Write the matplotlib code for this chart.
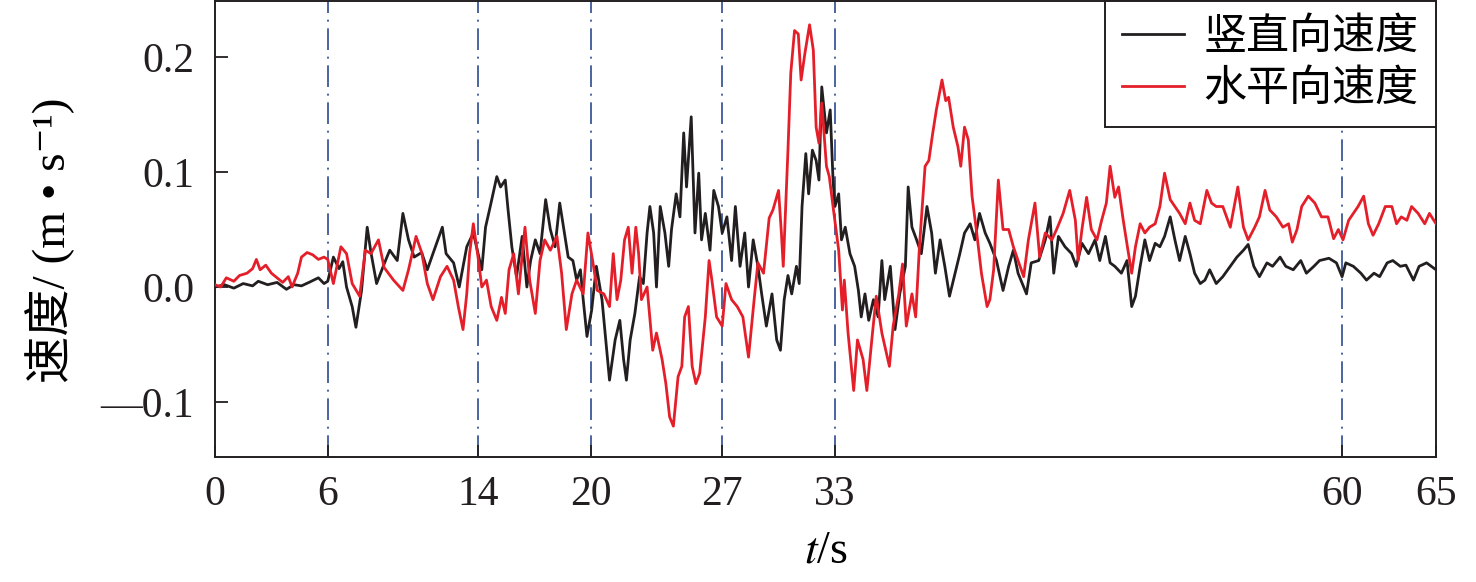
import numpy as np
import matplotlib
matplotlib.use('Agg')
import matplotlib.pyplot as plt

plt.rcParams['font.family'] = ['Liberation Serif', 'DejaVu Serif', 'Noto Sans CJK SC']
plt.rcParams['mathtext.fontset'] = 'stix'

# 竖直向速度 (t, v) 读图得到
vertical_speed = [
    (0, 0.000), (0.5, 0.002), (1.0, -0.001), (1.5, 0.003), (2.0, 0.001), (2.3, 0.005), (2.8, 0.002),
    (3.3, 0.004), (3.8, -0.002), (4.2, 0.002), (4.6, 0.001), (5.0, 0.004), (5.5, 0.008), (5.8, 0.003),
    (6.0, 0.005), (6.3, 0.026), (6.6, 0.016), (6.8, 0.022), (7.0, 0.000), (7.3, -0.017), (7.5, -0.035),
    (7.8, -0.003), (8.1, 0.052), (8.3, 0.030), (8.6, 0.003), (9.0, 0.020), (9.3, 0.032), (9.7, 0.023),
    (10.0, 0.064), (10.3, 0.041), (10.6, 0.026), (11.0, 0.030), (11.3, 0.015), (11.6, 0.029), (12.1, 0.052),
    (12.3, 0.029), (12.7, 0.021), (13.0, 0.000), (13.4, 0.035), (13.75, 0.047), (14.0, 0.029), (14.2, 0.015),
    (14.4, 0.052), (14.65, 0.070), (15.0, 0.096), (15.2, 0.087), (15.45, 0.093), (15.6, 0.067), (15.8, 0.035),
    (16.05, 0.009), (16.35, 0.044), (16.6, 0.000), (16.8, 0.023), (17.05, 0.041), (17.3, 0.029), (17.6, 0.076),
    (17.85, 0.050), (18.1, 0.035), (18.35, 0.073), (18.55, 0.052), (18.8, 0.026), (19.05, 0.023), (19.25, 0.006),
    (19.45, 0.015), (19.6, -0.011), (19.8, -0.043), (20.05, -0.020), (20.3, 0.018), (20.6, -0.011),
    (20.85, -0.055), (21.0, -0.081), (21.3, -0.046), (21.55, -0.029), (21.75, -0.063), (21.9, -0.081),
    (22.1, -0.046), (22.35, -0.023), (22.6, 0.009), (22.8, 0.003), (23.0, 0.047), (23.15, 0.070), (23.35, 0.047),
    (23.5, 0.000), (23.7, 0.070), (23.95, 0.047), (24.15, 0.018), (24.3, 0.050), (24.55, 0.081), (24.75, 0.061),
    (24.95, 0.134), (25.1, 0.087), (25.35, 0.148), (25.55, 0.047), (25.75, 0.099), (25.9, 0.041), (26.1, 0.064),
    (26.35, 0.032), (26.55, 0.084), (26.8, 0.070), (27.0, 0.047), (27.25, 0.061), (27.5, 0.023), (27.7, 0.070),
    (27.95, 0.018), (28.2, 0.047), (28.4, 0.000), (28.65, 0.041), (28.9, 0.018), (29.1, -0.006), (29.35, -0.034),
    (29.65, -0.006), (29.9, -0.046), (30.1, -0.055), (30.3, -0.011), (30.5, 0.010), (30.7, -0.006),
    (30.95, 0.018), (31.1, 0.003), (31.25, 0.070), (31.45, 0.116), (31.6, 0.081), (31.8, 0.119), (32.0, 0.110),
    (32.15, 0.093), (32.3, 0.174), (32.55, 0.134), (32.75, 0.154), (32.9, 0.093), (33.0, 0.070), (33.2, 0.081),
    (33.35, 0.041), (33.55, 0.052), (33.8, 0.029), (34.05, 0.018), (34.25, -0.003), (34.4, -0.026),
    (34.6, -0.006), (34.8, -0.029), (35.05, -0.011), (35.3, -0.026), (35.5, 0.023), (35.65, -0.011),
    (35.95, 0.018), (36.2, -0.037), (36.45, -0.006), (36.75, 0.018), (36.9, 0.087), (37.1, 0.052), (37.35, 0.041),
    (37.6, 0.029), (37.9, 0.070), (38.15, 0.047), (38.35, 0.012), (38.6, 0.041), (38.85, 0.018), (39.1, -0.008),
    (39.4, 0.012), (39.65, 0.029), (39.9, 0.047), (40.2, 0.055), (40.45, 0.041), (40.7, 0.064), (41.0, 0.047),
    (41.25, 0.038), (41.6, 0.023), (41.95, -0.003), (42.25, 0.018), (42.5, 0.032), (42.75, 0.012), (43.2, -0.006),
    (43.45, 0.021), (43.85, 0.023), (44.2, 0.041), (44.45, 0.061), (44.65, 0.012), (44.9, 0.044), (45.25, 0.035),
    (45.6, 0.029), (45.85, 0.018), (46.15, 0.038), (46.5, 0.029), (46.85, 0.041), (47.1, 0.023), (47.4, 0.044),
    (47.65, 0.021), (47.9, 0.018), (48.25, 0.012), (48.55, 0.023), (48.8, -0.017), (49.0, -0.008), (49.25, 0.018),
    (49.5, 0.041), (49.75, 0.023), (50.05, 0.038), (50.3, 0.035), (50.55, 0.044), (50.85, 0.061), (51.1, 0.041),
    (51.35, 0.023), (51.65, 0.044), (51.9, 0.029), (52.15, 0.012), (52.45, 0.003), (52.7, 0.006), (52.95, 0.015),
    (53.3, 0.003), (53.65, 0.009), (54.05, 0.018), (54.4, 0.026), (54.75, 0.032), (55.0, 0.037), (55.3, 0.018),
    (55.6, 0.009), (56.0, 0.021), (56.3, 0.018), (56.7, 0.026), (57.0, 0.018), (57.4, 0.015), (57.8, 0.023),
    (58.1, 0.012), (58.5, 0.018), (58.8, 0.023), (59.3, 0.025), (59.7, 0.021), (60.0, 0.009), (60.2, 0.021),
    (60.6, 0.018), (61.0, 0.012), (61.3, 0.006), (61.7, 0.012), (62.0, 0.009), (62.4, 0.021), (62.7, 0.023),
    (63.1, 0.018), (63.4, 0.019), (63.8, 0.006), (64.1, 0.018), (64.5, 0.021), (65.0, 0.015),
]

# 水平向速度 (t, v)
horizontal_speed = [
    (0, 0.002), (0.3, 0.000), (0.6, 0.008), (1.0, 0.005), (1.3, 0.010), (1.7, 0.012), (2.0, 0.016),
    (2.2, 0.024), (2.4, 0.015), (2.7, 0.019), (3.0, 0.012), (3.3, 0.008), (3.6, 0.004), (3.9, 0.009),
    (4.1, 0.000), (4.4, 0.012), (4.6, 0.026), (4.9, 0.030), (5.2, 0.028), (5.5, 0.024), (5.8, 0.026),
    (6.0, 0.024), (6.3, 0.003), (6.7, 0.035), (7.0, 0.029), (7.3, 0.003), (7.7, -0.008), (8.0, 0.032),
    (8.3, 0.029), (8.7, 0.041), (9.0, 0.017), (9.5, 0.006), (10.0, -0.003), (10.3, 0.015), (10.7, 0.044),
    (11.0, 0.030), (11.3, 0.003), (11.6, -0.011), (12.0, 0.009), (12.35, 0.018), (12.7, 0.006), (12.95, -0.017),
    (13.2, -0.037), (13.4, -0.006), (13.55, 0.029), (13.75, 0.055), (14.0, 0.026), (14.2, 0.000), (14.45, 0.006),
    (14.7, -0.017), (15.0, -0.029), (15.25, -0.009), (15.45, -0.023), (15.65, 0.015), (15.9, 0.029),
    (16.15, -0.006), (16.5, 0.052), (16.75, 0.006), (17.05, -0.023), (17.3, 0.023), (17.55, 0.041),
    (17.85, 0.032), (18.2, 0.044), (18.45, 0.012), (18.7, -0.037), (19.0, -0.006), (19.25, 0.006),
    (19.6, -0.006), (19.85, 0.047), (20.1, 0.023), (20.35, -0.003), (20.7, -0.006), (21.0, -0.017),
    (21.2, 0.029), (21.4, -0.011), (21.6, 0.006), (21.8, 0.041), (22.0, 0.052), (22.2, 0.012), (22.4, 0.052),
    (22.55, 0.029), (22.7, -0.011), (23.0, 0.000), (23.3, -0.055), (23.5, -0.040), (23.8, -0.063),
    (24.0, -0.084), (24.2, -0.113), (24.4, -0.121), (24.65, -0.078), (24.85, -0.069), (25.0, -0.026),
    (25.2, -0.017), (25.4, -0.069), (25.6, -0.084), (25.8, -0.075), (26.1, -0.026), (26.3, 0.023),
    (26.45, 0.006), (26.7, -0.026), (27.0, -0.034), (27.2, 0.003), (27.5, -0.011), (27.8, -0.017),
    (28.1, -0.026), (28.4, -0.061), (28.7, -0.011), (28.9, 0.021), (29.2, 0.012), (29.5, 0.060), (29.7, 0.067),
    (30.0, 0.084), (30.15, 0.047), (30.25, 0.018), (30.5, 0.119), (30.65, 0.186), (30.85, 0.223), (31.05, 0.220),
    (31.2, 0.180), (31.4, 0.203), (31.65, 0.228), (31.85, 0.206), (32.0, 0.139), (32.15, 0.125), (32.3, 0.160),
    (32.55, 0.105), (32.7, 0.096), (32.9, 0.070), (33.2, 0.032), (33.4, -0.020), (33.5, 0.006), (33.7, -0.040),
    (34.0, -0.090), (34.2, -0.046), (34.5, -0.063), (34.7, -0.090), (35.0, -0.040), (35.2, -0.008),
    (35.5, -0.040), (35.9, -0.069), (36.1, -0.034), (36.4, -0.006), (36.6, 0.020), (36.8, -0.034),
    (37.1, -0.006), (37.3, -0.026), (37.5, 0.035), (37.8, 0.105), (38.0, 0.110), (38.2, 0.133), (38.4, 0.154),
    (38.7, 0.180), (38.9, 0.162), (39.05, 0.165), (39.3, 0.139), (39.55, 0.122), (39.7, 0.105), (39.9, 0.139),
    (40.1, 0.128), (40.3, 0.079), (40.55, 0.047), (40.8, 0.012), (41.1, -0.017), (41.25, -0.011), (41.45, 0.015),
    (41.7, 0.093), (41.95, 0.050), (42.25, 0.050), (42.5, 0.035), (42.75, 0.023), (43.05, 0.009), (43.3, 0.041),
    (43.65, 0.073), (43.9, 0.026), (44.2, 0.047), (44.55, 0.041), (44.8, 0.050), (45.15, 0.064), (45.5, 0.084),
    (45.8, 0.058), (45.95, 0.023), (46.15, 0.050), (46.4, 0.078), (46.65, 0.050), (46.95, 0.041), (47.2, 0.058),
    (47.45, 0.073), (47.65, 0.105), (47.9, 0.078), (48.1, 0.087), (48.35, 0.058), (48.6, 0.032), (48.8, 0.012),
    (49.0, 0.035), (49.25, 0.055), (49.5, 0.047), (49.75, 0.052), (50.05, 0.055), (50.3, 0.070), (50.55, 0.099),
    (50.85, 0.076), (51.1, 0.070), (51.35, 0.064), (51.65, 0.055), (51.9, 0.073), (52.15, 0.058), (52.45, 0.055),
    (52.8, 0.084), (53.05, 0.073), (53.3, 0.070), (53.65, 0.070), (54.05, 0.052), (54.45, 0.087), (54.75, 0.052),
    (55.0, 0.041), (55.35, 0.052), (55.6, 0.061), (55.9, 0.084), (56.15, 0.067), (56.5, 0.061), (56.85, 0.052),
    (57.15, 0.055), (57.35, 0.039), (57.6, 0.050), (57.85, 0.070), (58.2, 0.079), (58.55, 0.073), (58.9, 0.061),
    (59.25, 0.061), (59.55, 0.042), (59.8, 0.050), (60.05, 0.041), (60.35, 0.058), (60.6, 0.064), (60.85, 0.070),
    (61.15, 0.079), (61.4, 0.055), (61.65, 0.045), (61.95, 0.055), (62.3, 0.070), (62.65, 0.070), (62.9, 0.055),
    (63.15, 0.061), (63.45, 0.058), (63.7, 0.070), (64.05, 0.064), (64.4, 0.055), (64.65, 0.064), (65.0, 0.055),
]

phase_times = [6, 14, 20, 27, 33, 60]
x_ticks = [0, 6, 14, 20, 27, 33, 60, 65]
y_ticks = [-0.1, 0.0, 0.1, 0.2]
y_tick_labels = ['—0.1', '0.0', '0.1', '0.2']
series_names = ['竖直向速度', '水平向速度']

fig = plt.figure(figsize=(14.76, 5.82), dpi=100)
ax = fig.add_axes([0.1457, 0.2148, 0.8272, 0.7835])

tv, vv = np.array(vertical_speed).T
th, vh = np.array(horizontal_speed).T

for x in phase_times:
    ax.axvline(x, color='#2e4a8f', lw=1.2, dashes=(13, 4, 1.2, 4), zorder=1)

ax.plot(tv, vv, color='#231f20', lw=2.0, label=series_names[0], zorder=2)
ax.plot(th, vh, color='#e41f2a', lw=2.0, label=series_names[1], zorder=3)

ax.set_xlim(0, 65)
ax.set_ylim(-0.1478, 0.2487)
ax.set_xticks(x_ticks)
ax.set_yticks(y_ticks)
ax.set_yticklabels(y_tick_labels)
ax.tick_params(direction='in', length=9, width=1.3, labelsize=30, colors='#231f20')
ax.tick_params(axis='x', pad=13)
ax.tick_params(axis='y', pad=15)
for s in ax.spines.values():
    s.set_linewidth(1.4)
    s.set_color('#231f20')

ax.set_xlabel(r'$t$/s', fontsize=33)
ax.xaxis.set_label_coords(0.5, -0.16)
ax.set_ylabel('速度/ (m • s⁻¹)', fontsize=34)
ax.yaxis.set_label_coords(-0.115, 0.475)

leg = ax.legend(loc='upper right', fontsize=31, frameon=True, fancybox=False,
                edgecolor='#231f20', framealpha=1, borderaxespad=0,
                handlelength=1.45, handletextpad=0.45, labelspacing=0.28,
                borderpad=0.4)
leg.get_frame().set_linewidth(1.4)

fig.savefig('out.png', dpi=100)
